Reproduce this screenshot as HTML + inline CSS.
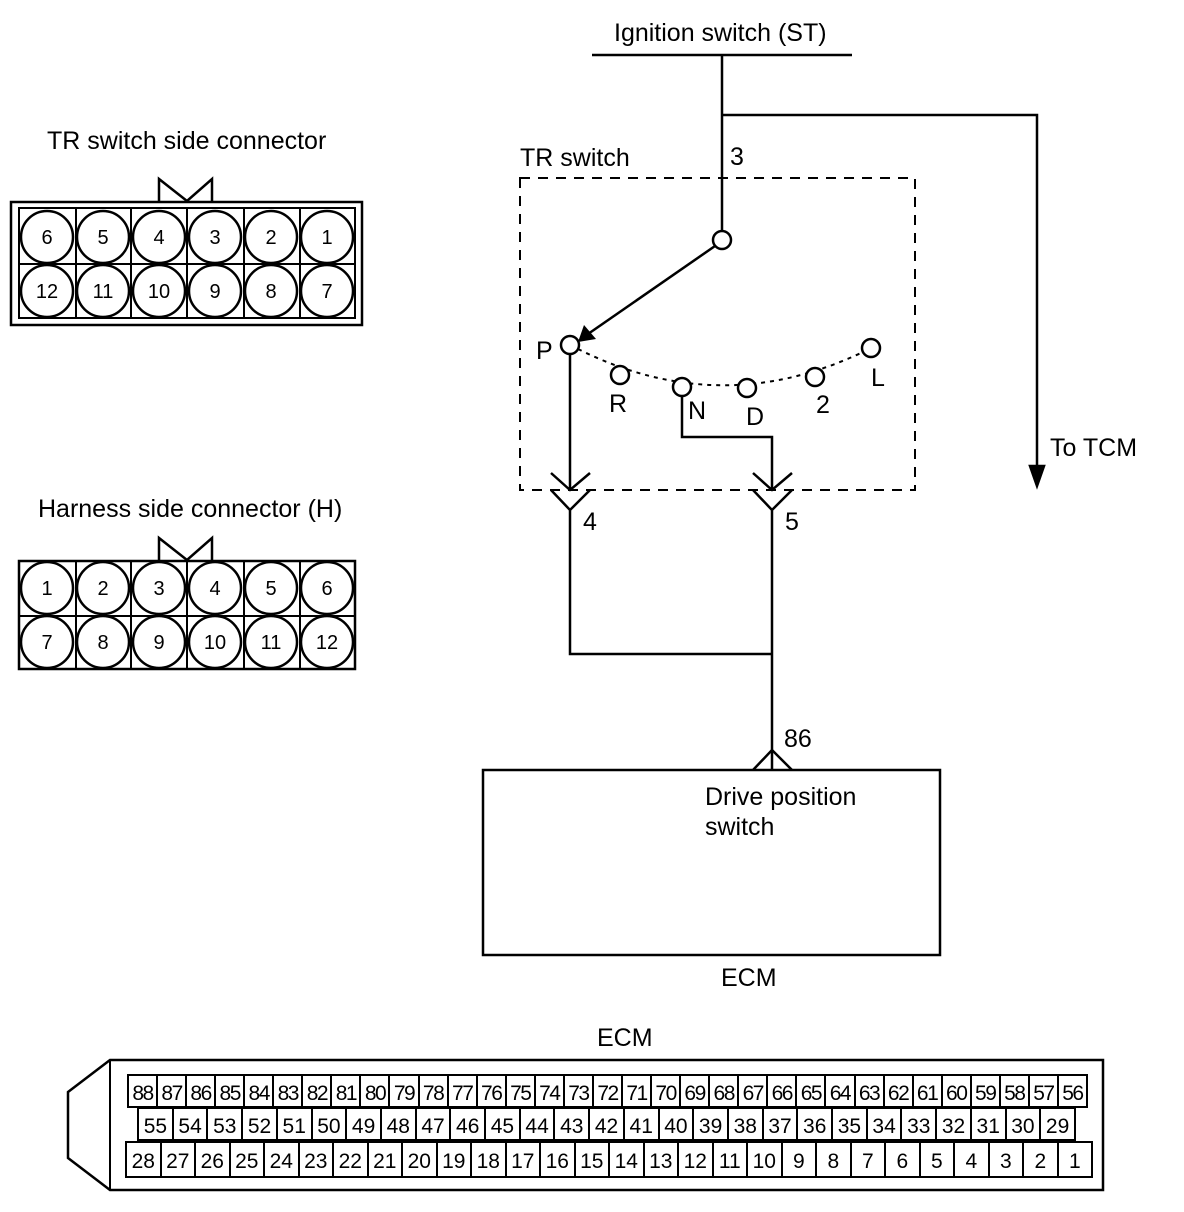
<!DOCTYPE html>
<html><head><meta charset="utf-8"><style>
html,body{margin:0;padding:0;background:#fff;}
svg{display:block;font-family:"Liberation Sans",Arial,sans-serif;}
</style></head><body>
<svg width="1184" height="1212" viewBox="0 0 1184 1212" xmlns="http://www.w3.org/2000/svg">
<g fill="none" stroke="#000" stroke-width="2.5">
<rect x="11" y="202" width="351" height="123"/>
<rect x="19" y="208" width="336" height="110" stroke-width="2"/>
<path d="M19 264H355M76 208V318M131 208V318M187 208V318M244 208V318M300 208V318" stroke-width="2"/>
<path d="M159 202V179L187 201L212 179V202"/>
<circle cx="47" cy="237" r="26"/><circle cx="103" cy="237" r="26"/><circle cx="159" cy="237" r="26"/><circle cx="215" cy="237" r="26"/><circle cx="271" cy="237" r="26"/><circle cx="327" cy="237" r="26"/>
<circle cx="47" cy="291" r="26"/><circle cx="103" cy="291" r="26"/><circle cx="159" cy="291" r="26"/><circle cx="215" cy="291" r="26"/><circle cx="271" cy="291" r="26"/><circle cx="327" cy="291" r="26"/>
<rect x="19" y="561" width="336" height="108"/>
<path d="M19 616H355M76 561V669M131 561V669M187 561V669M244 561V669M300 561V669" stroke-width="2"/>
<path d="M159 561V538L187 560L212 538V561"/>
<circle cx="47" cy="588" r="26"/><circle cx="103" cy="588" r="26"/><circle cx="159" cy="588" r="26"/><circle cx="215" cy="588" r="26"/><circle cx="271" cy="588" r="26"/><circle cx="327" cy="588" r="26"/>
<circle cx="47" cy="642" r="26"/><circle cx="103" cy="642" r="26"/><circle cx="159" cy="642" r="26"/><circle cx="215" cy="642" r="26"/><circle cx="271" cy="642" r="26"/><circle cx="327" cy="642" r="26"/>

<path d="M592 55H852M722 55V231M722 115H1037V470"/>
<polygon points="1030,466 1044,466 1037,486" fill="#000"/>
<rect x="520" y="178" width="395" height="312" stroke-dasharray="10,8" stroke-width="2"/>
<circle cx="722" cy="240" r="9" fill="#fff"/>
<path d="M715 246L588 334"/>
<polygon points="578,342 584,325 596,339" fill="#000" stroke="none"/>
<path d="M578 349Q720 420 863 352" stroke-dasharray="4,5" stroke-width="2"/>
<g fill="#fff">
<circle cx="570" cy="345" r="9"/><circle cx="620" cy="375" r="9"/><circle cx="682" cy="387" r="9"/><circle cx="747" cy="388" r="9"/><circle cx="815" cy="377" r="9"/><circle cx="871" cy="348" r="9"/>
</g>
<path d="M570 354V490M551 473L570 490L590 473M551 490L570 510L590 490M570 510V654H772"/>
<path d="M682 396V437H772V490M753 473L772 490L792 473M753 490L772 510L792 490M772 510V769"/>
<path d="M753 770L772 750L792 770"/>
<rect x="483" y="770" width="457" height="185"/>

<path d="M110 1060H1103V1190H110L68 1158V1092Z"/>
<path d="M110 1060V1190" stroke-width="2"/>
</g>

<g font-size="25" fill="#000">
<text x="614" y="41">Ignition switch (ST)</text>
<text x="47" y="149">TR switch side connector</text>
<text x="38" y="517">Harness side connector (H)</text>
<text x="520" y="166">TR switch</text>
<text x="730" y="165">3</text>
<text x="1050" y="456">To TCM</text>
<text x="536" y="359">P</text>
<text x="609" y="412">R</text>
<text x="688" y="419">N</text>
<text x="746" y="425">D</text>
<text x="816" y="413">2</text>
<text x="871" y="386">L</text>
<text x="583" y="530">4</text>
<text x="785" y="530">5</text>
<text x="784" y="747">86</text>
<text x="705" y="805">Drive position</text>
<text x="705" y="835">switch</text>
<text x="721" y="986">ECM</text>
<text x="597" y="1046">ECM</text>
</g>
<g font-size="20" text-anchor="middle" fill="#000">
<text x="47" y="244">6</text><text x="103" y="244">5</text><text x="159" y="244">4</text><text x="215" y="244">3</text><text x="271" y="244">2</text><text x="327" y="244">1</text>
<text x="47" y="298">12</text><text x="103" y="298">11</text><text x="159" y="298">10</text><text x="215" y="298">9</text><text x="271" y="298">8</text><text x="327" y="298">7</text>
<text x="47" y="595">1</text><text x="103" y="595">2</text><text x="159" y="595">3</text><text x="215" y="595">4</text><text x="271" y="595">5</text><text x="327" y="595">6</text>
<text x="47" y="649">7</text><text x="103" y="649">8</text><text x="159" y="649">9</text><text x="215" y="649">10</text><text x="271" y="649">11</text><text x="327" y="649">12</text>
</g>

<g fill="none" stroke="#000" stroke-width="2">
<rect x="128" y="1075" width="959" height="32"/>
<path d="M157 1075V1107M186 1075V1107M215 1075V1107M244 1075V1107M273 1075V1107M302 1075V1107M331 1075V1107M360 1075V1107M389 1075V1107M419 1075V1107M448 1075V1107M477 1075V1107M506 1075V1107M535 1075V1107M564 1075V1107M593 1075V1107M622 1075V1107M651 1075V1107M680 1075V1107M709 1075V1107M738 1075V1107M767 1075V1107M796 1075V1107M825 1075V1107M855 1075V1107M884 1075V1107M913 1075V1107M942 1075V1107M971 1075V1107M1000 1075V1107M1029 1075V1107M1058 1075V1107"/>
<rect x="138" y="1108" width="937" height="32"/>
<path d="M173 1108V1140M207 1108V1140M242 1108V1140M277 1108V1140M312 1108V1140M346 1108V1140M381 1108V1140M416 1108V1140M450 1108V1140M485 1108V1140M520 1108V1140M554 1108V1140M589 1108V1140M624 1108V1140M659 1108V1140M693 1108V1140M728 1108V1140M763 1108V1140M797 1108V1140M832 1108V1140M867 1108V1140M901 1108V1140M936 1108V1140M971 1108V1140M1006 1108V1140M1040 1108V1140"/>
<rect x="126" y="1142" width="966" height="35"/>
<path d="M161 1142V1177M195 1142V1177M230 1142V1177M264 1142V1177M299 1142V1177M333 1142V1177M368 1142V1177M402 1142V1177M437 1142V1177M471 1142V1177M506 1142V1177M540 1142V1177M575 1142V1177M609 1142V1177M644 1142V1177M678 1142V1177M713 1142V1177M747 1142V1177M782 1142V1177M816 1142V1177M851 1142V1177M885 1142V1177M920 1142V1177M954 1142V1177M989 1142V1177M1023 1142V1177M1058 1142V1177"/>
</g>
<g font-size="21" text-anchor="middle" fill="#000">
<g transform="translate(0,1100)" letter-spacing="-1.5">
<text x="142.5">88</text><text x="171.6">87</text><text x="200.6">86</text><text x="229.7">85</text><text x="258.7">84</text><text x="287.8">83</text><text x="316.9">82</text><text x="345.9">81</text><text x="375">80</text><text x="404">79</text><text x="433.1">78</text><text x="462.2">77</text><text x="491.2">76</text><text x="520.3">75</text><text x="549.3">74</text><text x="578.4">73</text><text x="607.5">72</text><text x="636.5">71</text><text x="665.6">70</text><text x="694.6">69</text><text x="723.7">68</text><text x="752.8">67</text><text x="781.8">66</text><text x="810.9">65</text><text x="839.9">64</text><text x="869">63</text><text x="898.1">62</text><text x="927.1">61</text><text x="956.2">60</text><text x="985.2">59</text><text x="1014.3">58</text><text x="1043.4">57</text><text x="1072.4">56</text>
</g>
<g transform="translate(0,1133)">
<text x="155.4">55</text><text x="190.1">54</text><text x="224.8">53</text><text x="259.5">52</text><text x="294.2">51</text><text x="328.9">50</text><text x="363.6">49</text><text x="398.3">48</text><text x="433">47</text><text x="467.7">46</text><text x="502.4">45</text><text x="537.1">44</text><text x="571.8">43</text><text x="606.5">42</text><text x="641.2">41</text><text x="675.9">40</text><text x="710.6">39</text><text x="745.3">38</text><text x="780">37</text><text x="814.7">36</text><text x="849.4">35</text><text x="884.1">34</text><text x="918.8">33</text><text x="953.5">32</text><text x="988.2">31</text><text x="1022.9">30</text><text x="1057.6">29</text>
</g>
<g transform="translate(0,1168)">
<text x="143.3">28</text><text x="177.8">27</text><text x="212.3">26</text><text x="246.8">25</text><text x="281.3">24</text><text x="315.8">23</text><text x="350.3">22</text><text x="384.8">21</text><text x="419.3">20</text><text x="453.8">19</text><text x="488.3">18</text><text x="522.8">17</text><text x="557.3">16</text><text x="591.8">15</text><text x="626.3">14</text><text x="660.8">13</text><text x="695.3">12</text><text x="729.8">11</text><text x="764.3">10</text><text x="798.8">9</text><text x="833.3">8</text><text x="867.8">7</text><text x="902.3">6</text><text x="936.8">5</text><text x="971.3">4</text><text x="1005.8">3</text><text x="1040.3">2</text><text x="1074.8">1</text>
</g>
</g>
</svg>
</body></html>
